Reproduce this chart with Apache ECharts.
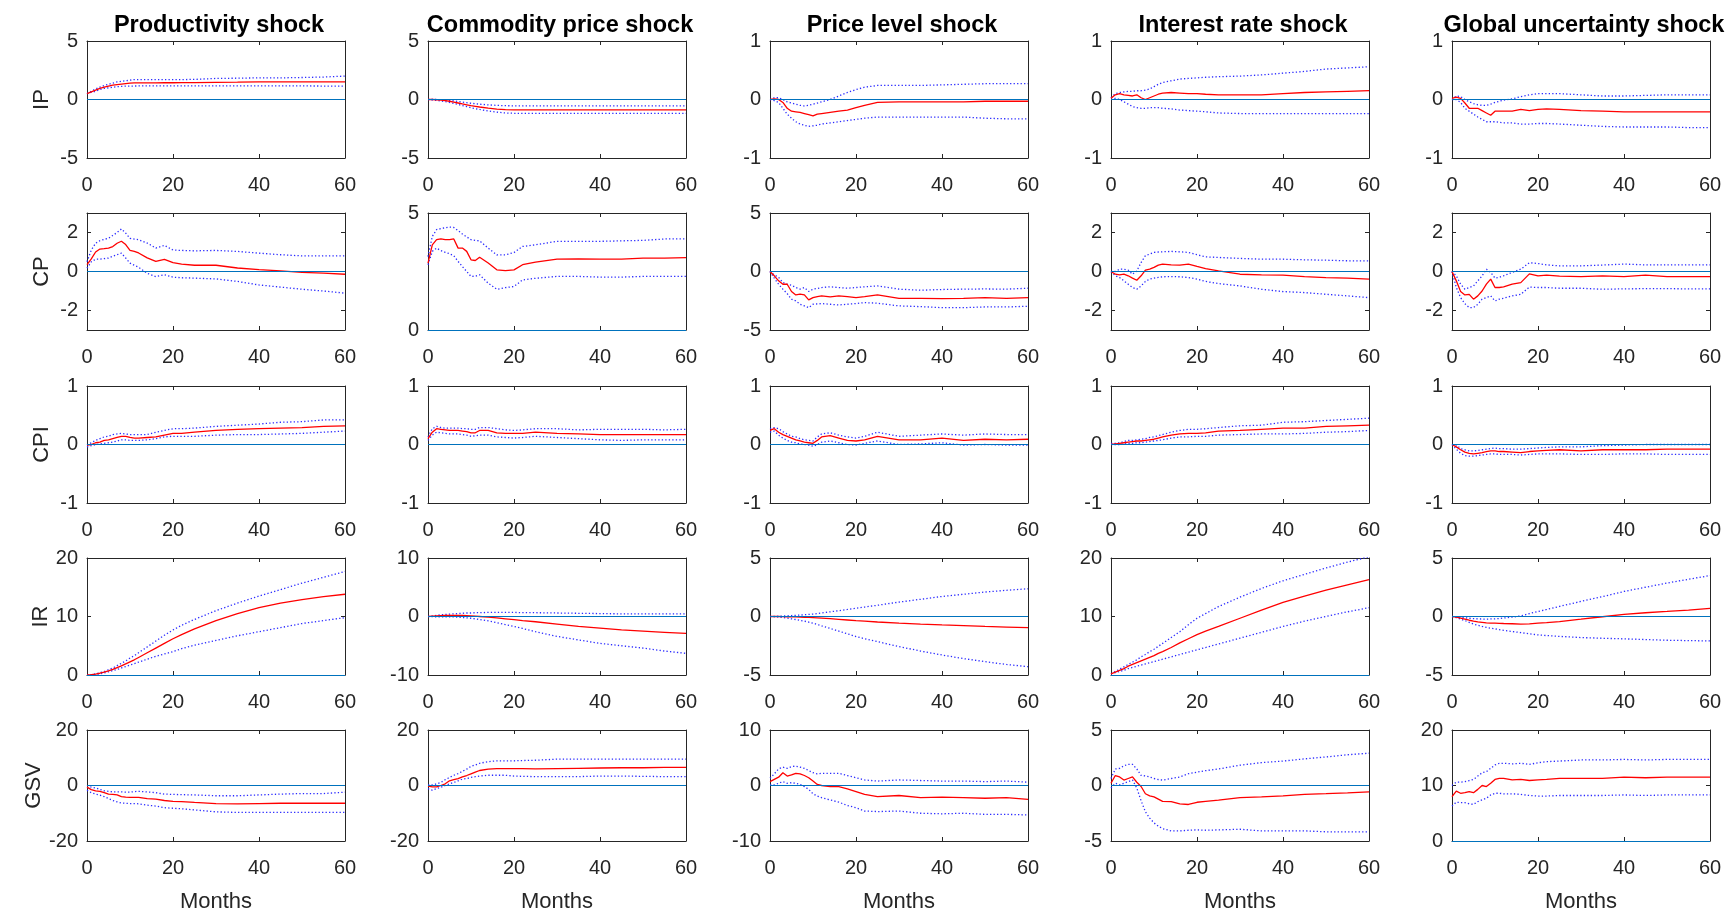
<!DOCTYPE html>
<html>
<head>
<meta charset="utf-8">
<script src="https://cdn.jsdelivr.net/npm/echarts@6/dist/echarts.min.js"></script>
<style>html,body{margin:0;padding:0;background:#fff}#c{width:1726px;height:914px}</style>
</head>
<body>
<div id="c"></div>
<script>
// ---------- categories ----------
const shocks = ['Productivity shock', 'Commodity price shock', 'Price level shock', 'Interest rate shock', 'Global uncertainty shock'];
const variables = ['IP', 'CP', 'CPI', 'IR', 'GSV'];
const months = [0,1,2,3,4,5,6,7,8,9,10,11,12,14,16,18,20,22,25,30,35,40,45,50,55,60];
const xTicks = [0, 20, 40, 60];

// ---------- y axis ranges and tick labels (row = variable, col = shock) ----------
const yMin = [[-5,-5,-1,-1,-1],[-3,0,-5,-3,-3],[-1,-1,-1,-1,-1],[0,-10,-5,0,-5],[-20,-20,-10,-5,0]];
const yMax = [[5,5,1,1,1],[3,5,5,3,3],[1,1,1,1,1],[20,10,5,20,5],[20,20,10,5,20]];
const yTicks = [
  [[-5,0,5],[-5,0,5],[-1,0,1],[-1,0,1],[-1,0,1]],
  [[-2,0,2],[0,5],[-5,0,5],[-2,0,2],[-2,0,2]],
  [[-1,0,1],[-1,0,1],[-1,0,1],[-1,0,1],[-1,0,1]],
  [[0,10,20],[-10,0,10],[-5,0,5],[0,10,20],[-5,0,5]],
  [[-20,0,20],[-20,0,20],[-10,0,10],[-5,0,5],[0,10,20]]
];

// ---------- IP ----------
const IP_prod_irf = [0.5,0.65,0.8,0.95,1.05,1.15,1.22,1.28,1.32,1.36,1.4,1.42,1.42,1.42,1.42,1.43,1.43,1.44,1.45,1.47,1.48,1.5,1.5,1.5,1.5,1.5];
const IP_prod_hi  = [0.5,0.7,0.9,1.05,1.2,1.3,1.4,1.5,1.55,1.6,1.65,1.7,1.7,1.7,1.7,1.7,1.7,1.7,1.72,1.8,1.82,1.85,1.85,1.88,1.92,2.0];
const IP_prod_lo  = [0.5,0.6,0.7,0.85,0.95,1.0,1.05,1.1,1.12,1.14,1.15,1.15,1.16,1.16,1.16,1.16,1.16,1.16,1.16,1.16,1.16,1.16,1.16,1.16,1.15,1.15];
const IP_comm_irf = [0,0,-0.02,-0.05,-0.1,-0.15,-0.22,-0.3,-0.38,-0.45,-0.52,-0.58,-0.64,-0.74,-0.82,-0.86,-0.88,-0.88,-0.88,-0.88,-0.88,-0.88,-0.88,-0.88,-0.88,-0.88];
const IP_comm_hi  = [0,0.02,0,-0.02,-0.05,-0.08,-0.12,-0.17,-0.22,-0.27,-0.32,-0.36,-0.4,-0.46,-0.5,-0.53,-0.54,-0.54,-0.54,-0.54,-0.54,-0.54,-0.54,-0.54,-0.55,-0.55];
const IP_comm_lo  = [0,-0.05,-0.08,-0.12,-0.18,-0.25,-0.33,-0.42,-0.52,-0.6,-0.7,-0.78,-0.85,-0.98,-1.08,-1.15,-1.18,-1.19,-1.19,-1.19,-1.19,-1.19,-1.19,-1.19,-1.19,-1.19];
const IP_price_irf = [0,0.01,0,-0.05,-0.15,-0.2,-0.21,-0.22,-0.24,-0.26,-0.28,-0.25,-0.24,-0.22,-0.2,-0.18,-0.14,-0.1,-0.05,-0.04,-0.04,-0.04,-0.04,-0.03,-0.03,-0.03];
const IP_price_hi  = [0,0.03,0.03,0,-0.04,-0.06,-0.08,-0.1,-0.11,-0.1,-0.08,-0.06,-0.04,0,0.06,0.12,0.17,0.21,0.24,0.24,0.24,0.25,0.26,0.27,0.27,0.27];
const IP_price_lo  = [0,-0.02,-0.05,-0.15,-0.25,-0.32,-0.38,-0.42,-0.44,-0.46,-0.45,-0.44,-0.42,-0.4,-0.38,-0.36,-0.34,-0.32,-0.3,-0.3,-0.3,-0.3,-0.3,-0.32,-0.33,-0.33];
const IP_rate_irf = [0.02,0.08,0.1,0.08,0.07,0.06,0.08,0.03,0,0.03,0.06,0.09,0.11,0.12,0.11,0.1,0.1,0.09,0.08,0.08,0.08,0.1,0.12,0.13,0.14,0.15];
const IP_rate_hi  = [0.03,0.1,0.12,0.13,0.14,0.14,0.15,0.15,0.16,0.18,0.22,0.26,0.29,0.32,0.35,0.36,0.37,0.38,0.39,0.4,0.42,0.45,0.48,0.52,0.54,0.56];
const IP_rate_lo  = [0,0.02,0,-0.04,-0.08,-0.12,-0.14,-0.15,-0.15,-0.14,-0.14,-0.14,-0.15,-0.16,-0.18,-0.19,-0.2,-0.21,-0.23,-0.24,-0.24,-0.24,-0.24,-0.24,-0.24,-0.24];
const IP_unc_irf = [0.02,0.04,0.02,-0.06,-0.15,-0.15,-0.15,-0.19,-0.23,-0.27,-0.2,-0.2,-0.2,-0.2,-0.17,-0.19,-0.17,-0.16,-0.17,-0.19,-0.2,-0.21,-0.21,-0.21,-0.21,-0.21];
const IP_unc_hi  = [0,0.06,0.05,0,-0.04,-0.07,-0.09,-0.1,-0.1,-0.08,-0.05,-0.03,-0.01,0.01,0.05,0.08,0.1,0.1,0.1,0.08,0.06,0.06,0.07,0.08,0.08,0.08];
const IP_unc_lo  = [0,0,-0.05,-0.15,-0.2,-0.25,-0.3,-0.34,-0.38,-0.38,-0.38,-0.39,-0.4,-0.4,-0.42,-0.42,-0.41,-0.41,-0.42,-0.44,-0.46,-0.47,-0.47,-0.47,-0.48,-0.48];

// ---------- CP ----------
const CP_prod_irf = [0.35,0.65,1.0,1.15,1.17,1.2,1.28,1.45,1.55,1.38,1.08,1.03,0.95,0.7,0.52,0.62,0.45,0.38,0.32,0.32,0.18,0.1,0.03,-0.04,-0.08,-0.14];
const CP_prod_hi  = [0.5,1.1,1.45,1.58,1.65,1.7,1.85,2.0,2.18,1.97,1.7,1.66,1.63,1.46,1.2,1.34,1.1,1.08,1.06,1.08,1.03,0.94,0.86,0.8,0.8,0.8];
const CP_prod_lo  = [0.17,0.5,0.63,0.63,0.66,0.69,0.78,0.86,0.94,0.69,0.43,0.32,0.22,-0.09,-0.26,-0.17,-0.29,-0.32,-0.34,-0.38,-0.51,-0.69,-0.8,-0.91,-1.0,-1.11];
const CP_comm_irf = [2.86,3.64,3.86,3.89,3.86,3.86,3.89,3.5,3.5,3.36,3.0,2.97,3.11,2.86,2.57,2.54,2.57,2.79,2.9,3.03,3.04,3.03,3.03,3.07,3.07,3.09];
const CP_comm_hi  = [3.14,4.0,4.29,4.33,4.37,4.4,4.38,4.25,4.1,3.98,3.86,3.83,3.81,3.5,3.21,3.21,3.31,3.57,3.64,3.79,3.79,3.79,3.81,3.83,3.89,3.89];
const CP_comm_lo  = [2.79,3.36,3.5,3.39,3.32,3.26,3.17,2.93,2.71,2.5,2.29,2.3,2.36,2.0,1.74,1.81,1.86,2.14,2.21,2.29,2.29,2.26,2.26,2.29,2.29,2.29];
const CP_price_irf = [0,-0.37,-0.8,-1.09,-1.09,-1.71,-2.0,-1.94,-2.0,-2.43,-2.23,-2.15,-2.09,-2.17,-2.09,-2.15,-2.23,-2.14,-2.0,-2.29,-2.29,-2.31,-2.29,-2.23,-2.29,-2.23];
const CP_price_hi  = [0,-0.29,-0.5,-0.94,-1.09,-1.17,-1.37,-1.5,-1.37,-1.71,-1.51,-1.45,-1.37,-1.31,-1.37,-1.43,-1.37,-1.31,-1.23,-1.51,-1.6,-1.54,-1.51,-1.49,-1.51,-1.43];
const CP_price_lo  = [0,-0.57,-1.09,-1.51,-1.89,-2.37,-2.51,-2.8,-2.94,-3.09,-2.8,-2.77,-2.74,-2.8,-2.86,-2.8,-2.74,-2.66,-2.71,-2.94,-3.0,-3.09,-3.09,-3.03,-3.03,-2.97];
const CP_rate_irf = [0,-0.14,-0.17,-0.14,-0.22,-0.34,-0.45,-0.22,0.07,0.12,0.21,0.33,0.38,0.34,0.33,0.38,0.26,0.15,0.03,-0.14,-0.17,-0.19,-0.26,-0.31,-0.34,-0.39];
const CP_rate_hi  = [0,0,0.12,0.12,0.07,-0.14,0.03,0.46,0.81,0.89,0.98,1.0,1.01,1.03,1.01,0.98,0.86,0.75,0.72,0.67,0.63,0.63,0.6,0.58,0.55,0.55];
const CP_rate_lo  = [0,-0.22,-0.31,-0.48,-0.65,-0.82,-0.91,-0.74,-0.51,-0.39,-0.34,-0.3,-0.27,-0.26,-0.27,-0.31,-0.39,-0.51,-0.62,-0.74,-0.91,-1.03,-1.08,-1.17,-1.25,-1.34];
const CP_unc_irf = [0,-0.48,-1.03,-1.2,-1.17,-1.42,-1.25,-1.0,-0.65,-0.39,-0.82,-0.82,-0.79,-0.65,-0.57,-0.12,-0.22,-0.19,-0.24,-0.26,-0.22,-0.26,-0.19,-0.26,-0.26,-0.26];
const CP_unc_hi  = [0,-0.22,-0.65,-0.91,-0.82,-0.74,-0.48,-0.22,0.12,-0.05,-0.34,-0.3,-0.22,-0.05,0.12,0.45,0.41,0.34,0.29,0.29,0.33,0.38,0.34,0.34,0.34,0.34];
const CP_unc_lo  = [0,-0.82,-1.34,-1.65,-1.85,-1.85,-1.68,-1.42,-1.34,-1.25,-1.51,-1.42,-1.37,-1.25,-1.17,-0.8,-0.82,-0.82,-0.86,-0.86,-0.91,-0.89,-0.88,-0.88,-0.89,-0.89];

// ---------- CPI ----------
const CPI_prod_irf = [-0.01,0,0.03,0.04,0.07,0.08,0.1,0.12,0.14,0.14,0.12,0.11,0.11,0.12,0.13,0.16,0.19,0.19,0.21,0.24,0.26,0.27,0.28,0.29,0.31,0.32];
const CPI_prod_hi  = [-0.01,0.03,0.07,0.1,0.13,0.14,0.17,0.18,0.19,0.18,0.17,0.17,0.17,0.17,0.21,0.24,0.27,0.27,0.28,0.31,0.33,0.35,0.38,0.39,0.42,0.42];
const CPI_prod_lo  = [-0.04,-0.02,0,0.01,0.02,0.03,0.04,0.06,0.08,0.08,0.07,0.07,0.07,0.08,0.1,0.13,0.14,0.14,0.14,0.16,0.17,0.17,0.18,0.19,0.21,0.23];
const CPI_comm_irf = [0.1,0.21,0.27,0.26,0.25,0.24,0.24,0.24,0.23,0.22,0.2,0.2,0.24,0.24,0.2,0.19,0.19,0.19,0.21,0.19,0.18,0.17,0.17,0.17,0.17,0.17];
const CPI_comm_hi  = [0.13,0.27,0.31,0.29,0.28,0.28,0.28,0.28,0.27,0.27,0.26,0.26,0.29,0.29,0.27,0.25,0.24,0.25,0.27,0.27,0.25,0.26,0.26,0.26,0.25,0.26];
const CPI_comm_lo  = [0.07,0.16,0.21,0.2,0.19,0.18,0.18,0.18,0.17,0.16,0.14,0.15,0.16,0.16,0.13,0.12,0.11,0.12,0.14,0.12,0.1,0.08,0.07,0.08,0.08,0.08];
const CPI_price_irf = [0.24,0.27,0.21,0.17,0.14,0.11,0.08,0.06,0.04,0.03,0.02,0.07,0.13,0.15,0.11,0.07,0.06,0.08,0.14,0.08,0.08,0.11,0.07,0.09,0.08,0.09];
const CPI_price_hi  = [0.27,0.29,0.27,0.22,0.18,0.14,0.13,0.1,0.08,0.07,0.06,0.13,0.18,0.2,0.16,0.13,0.11,0.14,0.21,0.14,0.16,0.18,0.16,0.18,0.17,0.17];
const CPI_price_lo  = [0.21,0.23,0.16,0.11,0.07,0.04,0.03,0.01,0,-0.01,-0.03,0,0.04,0.06,0.03,0,-0.01,0.02,0.06,0,0.01,0.03,-0.01,0,-0.01,-0.01];
const CPI_rate_irf = [0,0.01,0.02,0.03,0.04,0.05,0.06,0.06,0.07,0.08,0.09,0.11,0.13,0.16,0.18,0.19,0.19,0.2,0.23,0.24,0.26,0.28,0.28,0.31,0.32,0.33];
const CPI_rate_hi  = [0.02,0.02,0.03,0.05,0.07,0.07,0.08,0.09,0.1,0.12,0.13,0.15,0.17,0.21,0.24,0.26,0.26,0.27,0.29,0.32,0.33,0.38,0.39,0.41,0.43,0.45];
const CPI_rate_lo  = [0,0,0,0.01,0.02,0.02,0.03,0.03,0.04,0.05,0.06,0.07,0.08,0.11,0.13,0.13,0.14,0.14,0.16,0.17,0.18,0.18,0.19,0.21,0.22,0.24];
const CPI_unc_irf = [0,-0.04,-0.09,-0.13,-0.15,-0.16,-0.15,-0.14,-0.12,-0.11,-0.11,-0.12,-0.12,-0.13,-0.14,-0.12,-0.11,-0.1,-0.09,-0.11,-0.09,-0.09,-0.09,-0.08,-0.08,-0.08];
const CPI_unc_hi  = [0,-0.01,-0.07,-0.09,-0.11,-0.11,-0.1,-0.09,-0.08,-0.07,-0.06,-0.07,-0.07,-0.08,-0.08,-0.07,-0.06,-0.05,-0.04,-0.04,-0.02,-0.01,0,0,0,0];
const CPI_unc_lo  = [0,-0.08,-0.15,-0.19,-0.2,-0.2,-0.19,-0.18,-0.17,-0.16,-0.16,-0.17,-0.17,-0.17,-0.18,-0.17,-0.16,-0.16,-0.16,-0.17,-0.17,-0.16,-0.16,-0.17,-0.17,-0.17];

// ---------- IR ----------
const IR_prod_irf = [0,0.05,0.15,0.3,0.5,0.7,0.95,1.25,1.55,1.9,2.25,2.6,3.0,3.8,4.6,5.4,6.2,6.9,7.9,9.3,10.5,11.5,12.3,12.9,13.4,13.8];
const IR_prod_hi  = [0,0.05,0.2,0.4,0.6,0.9,1.2,1.6,2.0,2.4,2.9,3.3,3.8,4.8,5.8,6.8,7.7,8.5,9.5,11.0,12.3,13.5,14.6,15.7,16.7,17.7];
const IR_prod_lo  = [0,0.03,0.1,0.2,0.35,0.55,0.75,0.95,1.2,1.45,1.7,1.95,2.2,2.7,3.2,3.6,4.0,4.5,5.1,5.9,6.7,7.4,8.1,8.8,9.3,9.8];
const IR_comm_irf = [0,0.05,0.1,0.15,0.2,0.2,0.2,0.2,0.2,0.15,0.1,0.05,0,-0.1,-0.25,-0.4,-0.55,-0.7,-0.9,-1.3,-1.7,-2.0,-2.3,-2.5,-2.7,-2.9];
const IR_comm_hi  = [0,0.1,0.2,0.3,0.35,0.4,0.45,0.5,0.55,0.6,0.6,0.65,0.65,0.7,0.7,0.7,0.7,0.65,0.65,0.6,0.55,0.5,0.45,0.45,0.45,0.45];
const IR_comm_lo  = [0,-0.02,-0.05,-0.05,-0.05,-0.05,-0.08,-0.12,-0.17,-0.23,-0.3,-0.4,-0.5,-0.75,-1.05,-1.4,-1.7,-2.05,-2.6,-3.4,-4.0,-4.6,-5.0,-5.4,-5.9,-6.3];
const IR_price_irf = [0,0,0,-0.01,-0.02,-0.03,-0.04,-0.05,-0.07,-0.08,-0.1,-0.12,-0.14,-0.19,-0.24,-0.3,-0.36,-0.4,-0.47,-0.57,-0.65,-0.72,-0.78,-0.85,-0.9,-0.95];
const IR_price_hi  = [0,0.01,0.02,0.04,0.06,0.08,0.1,0.12,0.15,0.18,0.21,0.25,0.3,0.4,0.5,0.6,0.71,0.81,0.96,1.23,1.47,1.71,1.9,2.09,2.24,2.37];
const IR_price_lo  = [0,-0.02,-0.05,-0.09,-0.14,-0.2,-0.26,-0.33,-0.4,-0.48,-0.57,-0.68,-0.8,-1.02,-1.25,-1.48,-1.71,-1.9,-2.15,-2.57,-2.95,-3.29,-3.6,-3.86,-4.1,-4.29];
const IR_rate_irf = [0.2,0.5,0.8,1.1,1.5,1.8,2.1,2.4,2.7,3.0,3.3,3.7,4.0,4.7,5.5,6.2,6.9,7.5,8.3,9.7,11.1,12.4,13.5,14.5,15.4,16.3];
const IR_rate_hi  = [0.2,0.6,1.0,1.4,1.8,2.2,2.6,3.1,3.5,4.0,4.4,4.9,5.4,6.4,7.4,8.6,9.7,10.5,11.7,13.3,14.8,16.1,17.2,18.3,19.3,20.2];
const IR_rate_lo  = [0.2,0.4,0.6,0.8,1.1,1.3,1.5,1.7,1.9,2.1,2.3,2.5,2.7,3.1,3.5,3.9,4.3,4.7,5.3,6.3,7.3,8.3,9.2,10.0,10.8,11.5];
const IR_unc_irf = [0,-0.06,-0.13,-0.22,-0.32,-0.4,-0.46,-0.5,-0.54,-0.56,-0.57,-0.58,-0.6,-0.62,-0.65,-0.63,-0.57,-0.52,-0.43,-0.23,-0.02,0.18,0.32,0.43,0.55,0.7];
const IR_unc_hi  = [0,-0.03,-0.07,-0.1,-0.15,-0.18,-0.2,-0.22,-0.22,-0.21,-0.2,-0.17,-0.13,-0.05,0.05,0.25,0.43,0.6,0.86,1.29,1.7,2.14,2.5,2.86,3.18,3.5];
const IR_unc_lo  = [0,-0.1,-0.22,-0.35,-0.5,-0.65,-0.75,-0.85,-0.93,-1.0,-1.06,-1.12,-1.18,-1.28,-1.38,-1.48,-1.57,-1.63,-1.7,-1.8,-1.86,-1.91,-1.97,-2.03,-2.06,-2.09];

// ---------- GSV ----------
const GSV_prod_irf = [-0.6,-1.5,-1.9,-2.1,-2.6,-3.1,-3.2,-3.4,-4.0,-4.2,-4.3,-4.3,-4.3,-4.7,-4.9,-5.4,-5.7,-5.8,-6.1,-6.5,-6.6,-6.5,-6.4,-6.4,-6.4,-6.4];
const GSV_prod_hi  = [0,-0.6,-0.9,-1.4,-1.9,-2.1,-2.3,-2.3,-2.3,-2.4,-2.4,-2.2,-2.1,-2.3,-2.6,-3.1,-3.2,-3.3,-3.4,-3.7,-3.7,-3.4,-3.1,-2.9,-2.9,-2.4];
const GSV_prod_lo  = [-1.7,-2.6,-3.1,-3.5,-4.0,-4.7,-5.4,-5.9,-6.3,-6.4,-6.5,-6.5,-6.6,-7.1,-7.4,-8.0,-8.2,-8.4,-8.8,-9.5,-9.7,-9.7,-9.7,-9.7,-9.7,-9.7];
const GSV_comm_irf = [-0.2,-0.5,-0.5,0,0.6,1.7,2.1,2.5,3.1,3.6,4.2,4.8,5.4,5.9,6.1,6.1,6.1,6.1,6.0,6.1,6.2,6.3,6.4,6.4,6.5,6.5];
const GSV_comm_hi  = [0.2,0.2,0.6,1.1,2.1,2.9,3.7,4.3,5.1,5.9,6.9,7.4,8.0,8.6,8.9,8.9,8.9,9.0,9.1,9.5,9.5,9.5,9.5,9.5,9.5,9.5];
const GSV_comm_lo  = [-1.1,-1.7,-1.1,-0.6,0,0.6,1.1,1.7,2.3,2.5,2.9,3.2,3.4,3.7,3.7,3.7,3.4,3.3,3.2,3.2,3.2,3.4,3.4,3.3,3.2,3.2];
const GSV_price_irf = [0.7,1.1,1.5,2.3,1.7,1.9,2.2,2.1,1.8,1.4,0.8,0.2,0,-0.2,-0.2,-0.6,-1.1,-1.6,-2.0,-1.8,-2.2,-2.1,-2.2,-2.3,-2.2,-2.5];
const GSV_price_hi  = [1.3,2.1,3.0,3.3,3.1,3.4,3.5,3.3,3.1,2.7,2.3,2.1,2.2,2.2,2.2,1.8,1.4,1.0,0.8,1.0,0.9,0.8,0.8,0.7,0.8,0.6];
const GSV_price_lo  = [0.1,0.1,0.4,0.7,0.4,0.5,0.4,0.2,-0.2,-0.7,-1.5,-1.9,-2.2,-2.6,-3.0,-3.6,-4.0,-4.6,-4.7,-4.6,-5.0,-5.1,-5.0,-5.2,-5.2,-5.3];
const GSV_rate_irf = [0.2,0.9,0.77,0.49,0.63,0.77,0.29,-0.09,-0.74,-0.94,-1.03,-1.23,-1.43,-1.46,-1.66,-1.71,-1.51,-1.43,-1.31,-1.09,-1.03,-0.94,-0.8,-0.74,-0.66,-0.57];
const GSV_rate_hi  = [0.63,1.49,1.54,1.77,1.91,1.91,1.49,0.91,0.86,0.77,0.63,0.54,0.49,0.63,0.77,1.06,1.2,1.34,1.49,1.83,2.06,2.2,2.4,2.57,2.77,2.91];
const GSV_rate_lo  = [-0.23,0.2,0.06,0.2,0.34,0.49,-0.23,-1.37,-2.37,-2.94,-3.37,-3.66,-3.89,-4.09,-4.09,-4.03,-4.0,-4.03,-4.0,-3.94,-4.09,-4.09,-4.09,-4.17,-4.17,-4.17];
const GSV_unc_irf = [8.0,9.0,8.6,8.7,8.9,8.7,9.3,10.0,9.8,10.4,11.1,11.3,11.3,11.0,11.1,10.9,11.0,11.1,11.3,11.3,11.3,11.5,11.4,11.5,11.5,11.5];
const GSV_unc_hi  = [10.0,10.6,10.6,10.7,10.9,11.1,11.7,12.3,12.5,13.1,13.7,14.0,14.0,13.9,14.0,13.8,14.1,14.3,14.4,14.6,14.6,14.7,14.6,14.7,14.7,14.7];
const GSV_unc_lo  = [6.3,7.0,6.9,6.9,6.7,6.6,7.1,7.4,7.7,8.3,8.6,8.6,8.5,8.5,8.4,8.2,8.1,8.1,8.2,8.2,8.2,8.3,8.2,8.3,8.3,8.3];

// ---------- panel table built from the arrays ----------
const panels = [
  [[IP_prod_irf,IP_prod_lo,IP_prod_hi],[IP_comm_irf,IP_comm_lo,IP_comm_hi],[IP_price_irf,IP_price_lo,IP_price_hi],[IP_rate_irf,IP_rate_lo,IP_rate_hi],[IP_unc_irf,IP_unc_lo,IP_unc_hi]],
  [[CP_prod_irf,CP_prod_lo,CP_prod_hi],[CP_comm_irf,CP_comm_lo,CP_comm_hi],[CP_price_irf,CP_price_lo,CP_price_hi],[CP_rate_irf,CP_rate_lo,CP_rate_hi],[CP_unc_irf,CP_unc_lo,CP_unc_hi]],
  [[CPI_prod_irf,CPI_prod_lo,CPI_prod_hi],[CPI_comm_irf,CPI_comm_lo,CPI_comm_hi],[CPI_price_irf,CPI_price_lo,CPI_price_hi],[CPI_rate_irf,CPI_rate_lo,CPI_rate_hi],[CPI_unc_irf,CPI_unc_lo,CPI_unc_hi]],
  [[IR_prod_irf,IR_prod_lo,IR_prod_hi],[IR_comm_irf,IR_comm_lo,IR_comm_hi],[IR_price_irf,IR_price_lo,IR_price_hi],[IR_rate_irf,IR_rate_lo,IR_rate_hi],[IR_unc_irf,IR_unc_lo,IR_unc_hi]],
  [[GSV_prod_irf,GSV_prod_lo,GSV_prod_hi],[GSV_comm_irf,GSV_comm_lo,GSV_comm_hi],[GSV_price_irf,GSV_price_lo,GSV_price_hi],[GSV_rate_irf,GSV_rate_lo,GSV_rate_hi],[GSV_unc_irf,GSV_unc_lo,GSV_unc_hi]]
];

// ---------- layout / style ----------
const FONT = '"Liberation Sans", Arial, Helvetica, sans-serif';
const AX = '#262626';
const GL = 87, GT = 41, GW = 258, GH = 117, DX = 341.25, DY = 172.25;

const pairs = arr => months.map((m, i) => [m, arr[i]]);

const grids = [], xAxes = [], yAxes = [], series = [], titles = [];
for (let r = 0; r < 5; r++) {
  for (let c = 0; c < 5; c++) {
    const g = r * 5 + c;
    const left = Math.round(GL + DX * c), top = Math.round(GT + DY * r);
    grids.push({ left: left, top: top, width: GW, height: GH, show: false });
    const axLine = { show: true, onZero: false, lineStyle: { color: AX, width: 1 } };
    const tick = { show: true, inside: true, length: 4, lineStyle: { color: AX, width: 1 } };
    xAxes.push({
      gridIndex: g, type: 'value', min: 0, max: 60, interval: 20, position: 'bottom',
      axisLine: axLine, axisTick: tick, splitLine: { show: false },
      axisLabel: { show: true, color: AX, fontSize: 20, fontFamily: FONT, margin: 17, customValues: xTicks },
      name: r === 4 ? 'Months' : '', nameLocation: 'middle', nameGap: 50,
      nameTextStyle: { color: AX, fontSize: 22, fontFamily: FONT }
    });
    xAxes.push({
      gridIndex: g, type: 'value', min: 0, max: 60, interval: 20, position: 'top',
      axisLine: axLine, axisTick: tick, splitLine: { show: false }, axisLabel: { show: false }
    });
    const yt = yTicks[r][c];
    yAxes.push({
      gridIndex: g, type: 'value', min: yMin[r][c], max: yMax[r][c], position: 'left',
      axisLine: axLine, axisTick: Object.assign({ customValues: yt }, tick), splitLine: { show: false },
      axisLabel: { show: true, color: AX, fontSize: 20, fontFamily: FONT, margin: 9, customValues: yt },
      name: c === 0 ? variables[r] : '', nameLocation: 'middle', nameRotate: 90, nameGap: 34,
      nameTextStyle: { color: AX, fontSize: 22, fontFamily: FONT }
    });
    yAxes.push({
      gridIndex: g, type: 'value', min: yMin[r][c], max: yMax[r][c], position: 'right',
      axisLine: axLine, axisTick: Object.assign({ customValues: yt }, tick), splitLine: { show: false },
      axisLabel: { show: false }
    });
    const [irf, lo, hi] = panels[r][c];
    const xi = 2 * g, yi = 2 * g;
    series.push({
      type: 'line', xAxisIndex: xi, yAxisIndex: yi, data: [], showSymbol: false, silent: true, z: 1,
      markLine: {
        silent: true, symbol: 'none', animation: false, label: { show: false },
        lineStyle: { color: '#0072BD', width: 1.2, type: 'solid', opacity: 1 },
        emphasis: { disabled: true },
        data: [{ yAxis: 0 }]
      }
    });
    const dotted = { color: '#2b2bff', width: 1.3, type: [1.3, 2.2] };
    series.push({ type: 'line', xAxisIndex: xi, yAxisIndex: yi, data: pairs(lo), showSymbol: false, symbol: 'none', lineStyle: dotted, silent: true, z: 2, clip: true });
    series.push({ type: 'line', xAxisIndex: xi, yAxisIndex: yi, data: pairs(hi), showSymbol: false, symbol: 'none', lineStyle: dotted, silent: true, z: 2, clip: true });
    series.push({ type: 'line', xAxisIndex: xi, yAxisIndex: yi, data: pairs(irf), showSymbol: false, symbol: 'none', lineStyle: { color: '#ff0000', width: 1.3 }, silent: true, z: 3, clip: true });
  }
}
for (let c = 0; c < 5; c++) {
  titles.push({
    text: shocks[c], left: Math.round(GL + DX * c + GW / 2) - 2, top: 9, textAlign: 'center',
    textStyle: { color: '#000', fontSize: 23.5, fontWeight: 'bold', fontFamily: FONT }
  });
}

const chart = echarts.init(document.getElementById('c'), null, { renderer: 'canvas' });
chart.setOption({
  backgroundColor: '#fff',
  animation: false,
  title: titles,
  grid: grids,
  xAxis: xAxes,
  yAxis: yAxes,
  series: series
});
</script>
</body>
</html>
